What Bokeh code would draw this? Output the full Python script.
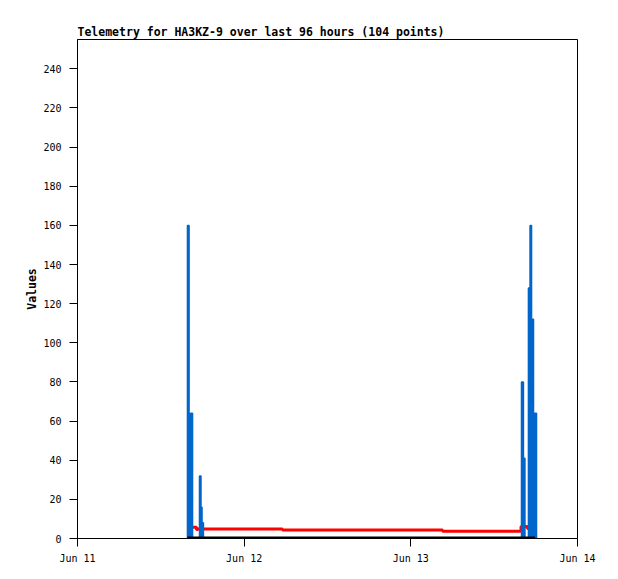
import pandas as pd
from bokeh.plotting import figure
from bokeh.models import Range1d, FixedTicker, DatetimeTickFormatter
from bokeh.embed import file_html
from bokeh.resources import INLINE

# ---- data ----
title_text = "Telemetry for HA3KZ-9 over last 96 hours (104 points)"
y_label = "Values"

x_tick_dates = ["2024-06-11", "2024-06-12", "2024-06-13", "2024-06-14"]
y_ticks = [0, 20, 40, 60, 80, 100, 120, 140, 160, 180, 200, 220, 240]

blue_times = [
    "2024-06-11 15:50", "2024-06-11 15:50", "2024-06-11 16:04", "2024-06-11 16:16",
    "2024-06-11 16:34", "2024-06-11 17:34", "2024-06-11 17:47", "2024-06-11 17:56",
    "2024-06-11 18:08",
    "2024-06-13 15:56", "2024-06-13 16:13", "2024-06-13 16:26", "2024-06-13 16:56",
    "2024-06-13 17:10", "2024-06-13 17:23", "2024-06-13 17:40", "2024-06-13 17:49",
    "2024-06-13 18:06",
]
blue_values = [0, 160, 32, 64, 0, 32, 16, 8, 0,
               80, 41, 0, 128, 160, 112, 32, 64, 0]

red_times = [
    "2024-06-11 16:34", "2024-06-11 17:08", "2024-06-11 17:21", "2024-06-12 05:31",
    "2024-06-13 04:34", "2024-06-13 15:52", "2024-06-13 16:48", "2024-06-13 17:57",
]
red_values = [5.8, 4.6, 4.9, 4.4, 3.7, 6.1, 5.1, 5.1]

black_times = ["2024-06-11 15:50", "2024-06-13 17:53"]
black_values = [0, 0]

# ---- figure ----
FONT = "DejaVu Sans Mono"
BLUE = "#0066cc"

x_ticks_ms = [pd.Timestamp(d).timestamp() * 1000 for d in x_tick_dates]

p = figure(
    x_axis_type="datetime",
    frame_width=500, frame_height=499,
    min_border_left=77, min_border_right=25,
    min_border_top=39, min_border_bottom=33,
    x_range=Range1d(start=pd.Timestamp(x_tick_dates[0]), end=pd.Timestamp(x_tick_dates[-1])),
    y_range=Range1d(start=0, end=255),
    output_backend="svg", toolbar_location=None,
    background_fill_color="white", border_fill_color="white",
)

bt = pd.to_datetime(blue_times)

p.step(pd.to_datetime(red_times), red_values, mode="after",
       line_color="#ff0000", line_width=3)
p.varea_step(x=bt, y1=[0] * len(blue_values), y2=blue_values, step_mode="after",
             fill_color=BLUE)
p.step(bt, blue_values, mode="after", line_color=BLUE, line_width=1.5)
p.line(pd.to_datetime(black_times), black_values,
       line_color="black", line_width=4)

# title
p.title.text = title_text
p.title.text_font = FONT
p.title.text_font_style = "bold"
p.title.text_font_size = "11.5px"
p.title.text_color = "black"
p.title.align = "left"
p.title.offset = 0
p.title.standoff = 2

# grids/outline
p.xgrid.visible = False
p.ygrid.visible = False
p.outline_line_color = "black"
p.outline_line_width = 1
p.outline_line_alpha = 1

# x axis
p.xaxis.ticker = FixedTicker(ticks=x_ticks_ms, minor_ticks=[])
p.xaxis.formatter = DatetimeTickFormatter(
    days="%b %d", hours="%b %d", months="%b %d", minutes="%b %d")

# y axis
p.yaxis.ticker = FixedTicker(ticks=y_ticks, minor_ticks=[])
p.yaxis.axis_label = y_label

for ax in (p.xaxis, p.yaxis):
    ax.axis_line_color = "black"
    ax.axis_line_width = 1
    ax.major_tick_line_color = "black"
    ax.major_tick_out = 8
    ax.major_tick_in = 0
    ax.minor_tick_out = 0
    ax.minor_tick_in = 0
    ax.major_label_text_font = FONT
    ax.major_label_text_font_size = "10px"
    ax.major_label_text_color = "black"
    ax.axis_label_text_font = FONT
    ax.axis_label_text_font_style = "bold"
    ax.axis_label_text_font_size = "11.5px"
    ax.axis_label_text_color = "black"

p.xaxis.major_label_standoff = 6
p.yaxis.major_label_standoff = 8
p.yaxis.axis_label_standoff = 1

open("out.html", "w").write(file_html(p, INLINE))
